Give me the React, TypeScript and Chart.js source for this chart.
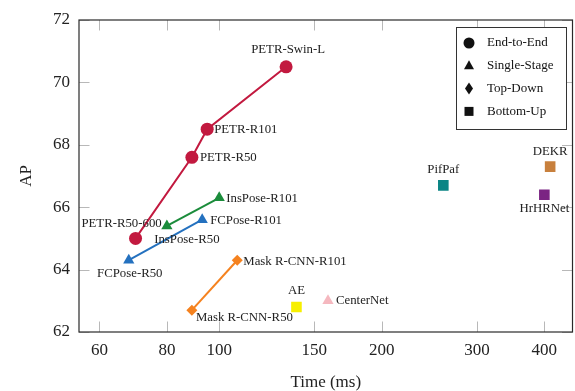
import React, { useEffect, useRef } from "react";
import { Chart, registerables } from "chart.js";

Chart.register(...registerables);

// ---- Data ----
const PETR_LABELS = ["PETR-R50-600", "PETR-R50", "PETR-R101", "PETR-Swin-L"];
const PETR_TIME = [70, 89, 95, 133];
const PETR_AP = [65.0, 67.6, 68.5, 70.5];

const INSPOSE_LABELS = ["InsPose-R50", "InsPose-R101"];
const INSPOSE_TIME = [80, 100];
const INSPOSE_AP = [65.4, 66.3];

const FCPOSE_LABELS = ["FCPose-R50", "FCPose-R101"];
const FCPOSE_TIME = [68, 93];
const FCPOSE_AP = [64.3, 65.6];

const MASK_LABELS = ["Mask R-CNN-R50", "Mask R-CNN-R101"];
const MASK_TIME = [89, 108];
const MASK_AP = [62.7, 64.3];

const AE_LABELS = ["AE"];
const AE_TIME = [139];
const AE_AP = [62.8];

const CENTERNET_LABELS = ["CenterNet"];
const CENTERNET_TIME = [159];
const CENTERNET_AP = [63.0];

const PIFPAF_LABELS = ["PifPaf"];
const PIFPAF_TIME = [260];
const PIFPAF_AP = [66.7];

const DEKR_LABELS = ["DEKR"];
const DEKR_TIME = [410];
const DEKR_AP = [67.3];

const HRHRNET_LABELS = ["HrHRNet"];
const HRHRNET_TIME = [400];
const HRHRNET_AP = [66.4];

const X_TICKS = [60, 80, 100, 150, 200, 300, 400];
const Y_TICKS = [62, 64, 66, 68, 70, 72];

const LEGEND_LABELS = ["End-to-End", "Single-Stage", "Top-Down", "Bottom-Up"];
const LEGEND_STYLES = ["circle", "triangle", "diamond", "square"];

// ---- Label placement (style, not data): [dx, dy, align] ----
const LABEL_PLACEMENT: Record<string, [number, number, CanvasTextAlign]> = {
  "PETR-R50-600": [-14, -15, "center"],
  "PETR-R50": [8, 0, "left"],
  "PETR-R101": [7, 0, "left"],
  "PETR-Swin-L": [2, -17, "center"],
  "InsPose-R50": [20, 14, "center"],
  "InsPose-R101": [7, 1, "left"],
  "FCPose-R50": [1, 13, "center"],
  "FCPose-R101": [8, 1, "left"],
  "Mask R-CNN-R50": [4, 7, "left"],
  "Mask R-CNN-R101": [6, 1, "left"],
  AE: [0, -16, "center"],
  CenterNet: [8, 0, "left"],
  PifPaf: [0, -16, "center"],
  DEKR: [0, -15, "center"],
  HrHRNet: [0, 14, "center"],
};

const SERIF = "'Liberation Serif', 'DejaVu Serif', serif";

function pts(t: number[], a: number[]) {
  return t.map((x, i) => ({ x, y: a[i] }));
}

function mk(
  labels: string[],
  t: number[],
  a: number[],
  color: string,
  style: string,
  radius: number,
  line: boolean
) {
  return {
    label: labels.join(","),
    names: labels,
    data: pts(t, a),
    showLine: line,
    borderColor: color,
    backgroundColor: color,
    borderWidth: 2,
    pointStyle: style,
    pointRadius: radius,
    pointHoverRadius: radius,
    pointBorderWidth: 0,
    pointBackgroundColor: color,
    pointBorderColor: color,
  };
}

function drawMarker(ctx: CanvasRenderingContext2D, style: string, x: number, y: number) {
  ctx.beginPath();
  if (style === "circle") {
    ctx.arc(x, y, 5.5, 0, Math.PI * 2);
  } else if (style === "triangle") {
    ctx.moveTo(x, y - 5.5);
    ctx.lineTo(x + 5, y + 3.5);
    ctx.lineTo(x - 5, y + 3.5);
    ctx.closePath();
  } else if (style === "diamond") {
    ctx.moveTo(x, y - 6);
    ctx.lineTo(x + 4, y);
    ctx.lineTo(x, y + 6);
    ctx.lineTo(x - 4, y);
    ctx.closePath();
  } else {
    ctx.rect(x - 4.5, y - 4.5, 9, 9);
  }
  ctx.fill();
}

const decorPlugin = {
  id: "decor",
  afterDatasetsDraw(chart: any) {
    const { ctx, chartArea } = chart;
    const xs = chart.scales.x;
    const ys = chart.scales.y;
    const { left, right, top, bottom } = chartArea;
    ctx.save();
    // inward ticks
    ctx.strokeStyle = "#b8b8b8";
    ctx.lineWidth = 1;
    const tl = 10.5;
    X_TICKS.forEach((v) => {
      const px = Math.round(xs.getPixelForValue(v)) + 0.5;
      ctx.beginPath();
      ctx.moveTo(px, bottom);
      ctx.lineTo(px, bottom - tl);
      ctx.moveTo(px, top);
      ctx.lineTo(px, top + tl);
      ctx.stroke();
    });
    Y_TICKS.forEach((v) => {
      const py = Math.round(ys.getPixelForValue(v)) + 0.5;
      ctx.beginPath();
      ctx.moveTo(left, py);
      ctx.lineTo(left + tl, py);
      ctx.moveTo(right, py);
      ctx.lineTo(right - tl, py);
      ctx.stroke();
    });
    // box
    ctx.strokeStyle = "#2a2a2a";
    ctx.lineWidth = 1.2;
    ctx.strokeRect(left, top, right - left, bottom - top);

    // data labels
    ctx.fillStyle = "#222";
    ctx.font = `12.8px ${SERIF}`;
    ctx.textBaseline = "middle";
    chart.data.datasets.forEach((ds: any, di: number) => {
      const meta = chart.getDatasetMeta(di);
      meta.data.forEach((el: any, i: number) => {
        const name = ds.names[i];
        const p = LABEL_PLACEMENT[name] || [8, 0, "left"];
        ctx.textAlign = p[2];
        ctx.fillText(name, el.x + p[0], el.y + p[1]);
      });
    });

    // legend
    const lx = 456, ly = 27, lw = 110, lh = 102;
    ctx.fillStyle = "#fff";
    ctx.fillRect(lx, ly, lw, lh);
    ctx.strokeStyle = "#333";
    ctx.lineWidth = 1;
    ctx.strokeRect(lx + 0.5, ly + 0.5, lw, lh);
    LEGEND_LABELS.forEach((lab, i) => {
      const cy = ly + 16 + i * 22.8;
      ctx.fillStyle = "#111";
      drawMarker(ctx, LEGEND_STYLES[i], 469, cy);
      ctx.font = `13px ${SERIF}`;
      ctx.textAlign = "left";
      ctx.textBaseline = "middle";
      ctx.fillText(lab, 487, cy);
    });
    ctx.restore();
  },
};

export default function App() {
  const ref = useRef<HTMLCanvasElement | null>(null);
  useEffect(() => {
    document.body.style.margin = "0";
    const canvas = ref.current!;
    const chart = new Chart(canvas, {
      type: "scatter",
      data: {
        datasets: [
          mk(PETR_LABELS, PETR_TIME, PETR_AP, "#c2193f", "circle", 6.5, true),
          mk(INSPOSE_LABELS, INSPOSE_TIME, INSPOSE_AP, "#1b8c3b", "triangle", 6.5, true),
          mk(FCPOSE_LABELS, FCPOSE_TIME, FCPOSE_AP, "#2471bf", "triangle", 6.5, true),
          mk(MASK_LABELS, MASK_TIME, MASK_AP, "#f5821f", "rectRot", 5.5, true),
          mk(AE_LABELS, AE_TIME, AE_AP, "#f7ef00", "rect", 7.5, false),
          mk(CENTERNET_LABELS, CENTERNET_TIME, CENTERNET_AP, "#f5b8bf", "triangle", 6.5, false),
          mk(PIFPAF_LABELS, PIFPAF_TIME, PIFPAF_AP, "#0b8585", "rect", 7.5, false),
          mk(DEKR_LABELS, DEKR_TIME, DEKR_AP, "#c8803d", "rect", 7.5, false),
          mk(HRHRNET_LABELS, HRHRNET_TIME, HRHRNET_AP, "#7b2483", "rect", 7.5, false),
        ] as any,
      },
      options: {
        animation: false,
        responsive: false,
        maintainAspectRatio: false,
        events: [],
        layout: { padding: { top: 20, right: 4, left: 0, bottom: 0 } },
        plugins: { legend: { display: false }, tooltip: { enabled: false } },
        scales: {
          x: {
            type: "logarithmic",
            min: 55,
            max: 451,
            afterBuildTicks: (s: any) => {
              s.ticks = X_TICKS.map((v) => ({ value: v }));
            },
            afterFit: (s: any) => {
              s.height = 59;
            },
            grid: { display: false, drawTicks: false },
            border: { display: false },
            ticks: {
              autoSkip: false,
              maxRotation: 0,
              padding: 8,
              color: "#222",
              font: { family: SERIF, size: 17 },
              callback: (v: any) => String(v),
            },
            title: {
              display: true,
              text: "Time (ms)",
              color: "#222",
              font: { family: SERIF, size: 17 },
              padding: { top: 0, bottom: -2 },
            },
          },
          y: {
            type: "linear",
            min: 62,
            max: 72,
            afterBuildTicks: (s: any) => {
              s.ticks = Y_TICKS.map((v) => ({ value: v }));
            },
            afterFit: (s: any) => {
              s.width = 79;
            },
            grid: { display: false, drawTicks: false },
            border: { display: false },
            ticks: {
              padding: 9,
              color: "#222",
              font: { family: SERIF, size: 17 },
              callback: (v: any) => String(v),
            },
            title: {
              display: true,
              text: "AP",
              color: "#222",
              font: { family: SERIF, size: 17 },
              padding: { top: 16, bottom: 0 },
            },
          },
        },
      },
      plugins: [decorPlugin],
    });
    return () => chart.destroy();
  }, []);
  return (
    <div style={{ width: 575, height: 391, overflow: "hidden", position: "relative" }}>
      <canvas ref={ref} width={580} height={391} style={{ width: 580, height: 391, display: "block" }} />
    </div>
  );
}
